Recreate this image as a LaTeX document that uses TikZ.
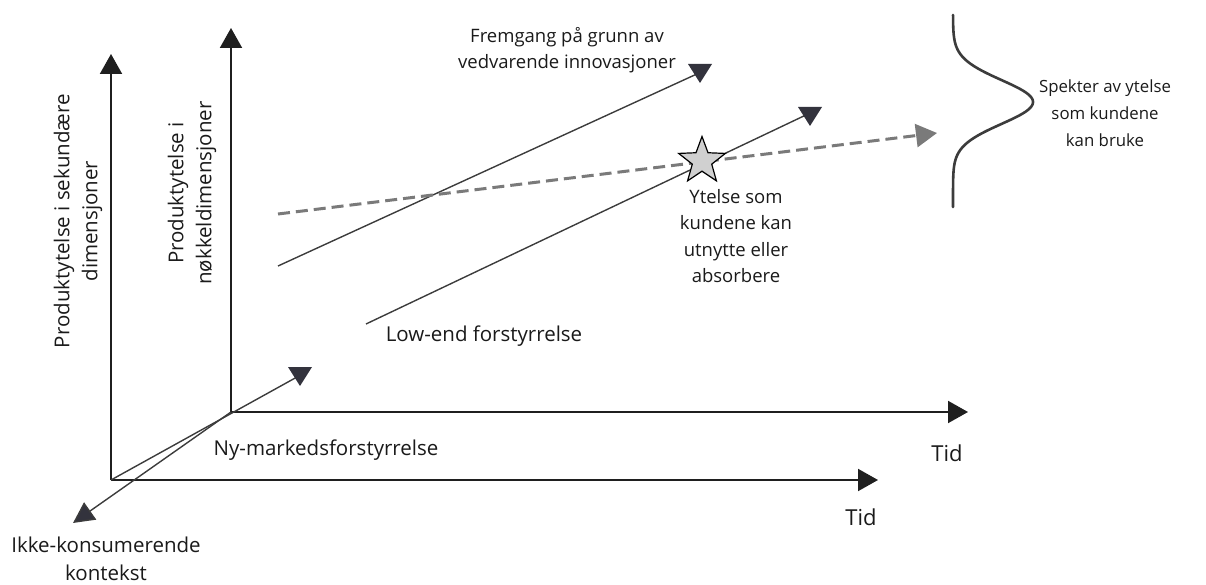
\documentclass[tikz,border=0pt]{standalone}
\usepackage{fontspec}
\setmainfont{Open Sans}
\usetikzlibrary{arrows.meta,shapes.geometric}
\definecolor{axiscol}{HTML}{1F1F1F}
\definecolor{linecol}{HTML}{3C3C3C}
\definecolor{trifill}{HTML}{33333D}
\definecolor{dashcol}{HTML}{7A7A7A}
\definecolor{starfill}{HTML}{D0D0D0}
\definecolor{txtcol}{HTML}{1A1A1A}
\begin{document}
\begin{tikzpicture}[x=1pt,y=-1pt,
  axis/.style={draw=axiscol, line width=2pt, -{Triangle[length=20pt,width=22pt]}},
  thinline/.style={draw=linecol, line width=1.4pt},
  thinarrow/.style={draw=linecol, line width=1.4pt, -{Triangle[length=21pt,width=21pt,fill=trifill]}},
  dashedarrow/.style={draw=dashcol, line width=3pt, dash pattern=on 12pt off 6pt, -{Triangle[length=21pt,width=23pt]}},
  bellcurve/.style={draw=linecol, line width=2.6pt, line cap=round},
  lbl/.style={text=txtcol, inner sep=0pt, align=center, font=\fontsize{20.5}{28}\selectfont},
  lbls/.style={text=txtcol, inner sep=0pt, align=center, font=\fontsize{18.5}{26.5}\selectfont},
  lblxs/.style={text=txtcol, inner sep=0pt, align=center, font=\fontsize{16.8}{27}\selectfont},
  lblt/.style={text=txtcol, inner sep=0pt, font=\fontsize{22}{28}\selectfont},
  downtri/.pic={\fill[trifill] (-12,-8) -- (12,-8) -- (0,11) -- cycle;}
]
\useasboundingbox (0,0) rectangle (1206,585);

% coordinates
\coordinate (O1) at (111,480);
\coordinate (O2) at (231,412);
\coordinate (Y1) at (111,54);
\coordinate (X1) at (878,480);
\coordinate (Y2) at (231,28);
\coordinate (X2) at (968,412);
\coordinate (S0) at (278,266);
\coordinate (S1) at (699,73);
\coordinate (L0) at (366,324);
\coordinate (L1) at (808,114);
\coordinate (D0) at (278,214);
\coordinate (D1) at (937,133);
\coordinate (N1) at (297,377);
\coordinate (K1) at (73,523);

% axes
\draw[axis] (O1) -- (Y1);
\draw[axis] (O1) -- (X1);
\draw[axis] (O2) -- (Y2);
\draw[axis] (O2) -- (X2);

% diagonal lines
\draw[thinline] (O1) -- (N1);
\pic at (300,375) {downtri};
\draw[thinarrow] (O2) -- (K1);

\draw[thinline] (S0) -- (S1);
\pic at (700,72) {downtri};
\draw[thinline] (L0) -- (L1);
\pic at (810,115) {downtri};

\draw[dashedarrow] (D0) -- (D1);

% star
\node[star, star points=5, star point ratio=2.4, minimum size=49pt, inner sep=0pt,
      draw=black, line width=1.2pt, fill=starfill] (star) at (702,161) {};

% bell curve
\draw[bellcurve] plot[domain=15:207, samples=120, variable=\t, smooth]
  ({953+80*exp(-((\t-102)/31)*((\t-102)/31))}, {\t});

% labels
\node[lbls] (fremgang) at (567,50) {Fremgang på grunn av\\vedvarende innovasjoner};
\node[lbl] (lowend) at (484,336) {Low-end forstyrrelse};
\node[lbl] (nymarked) at (326,450) {Ny-markedsforstyrrelse};
\node[lbl] (ikke) at (106,559) {Ikke-konsumerende\\kontekst};
\node[lbls] (ytelse) at (736,236) {Ytelse som\\kundene kan\\utnytte eller\\absorbere};
\node[lblxs] (spekter) at (1105,113) {Spekter av ytelse\\som kundene\\kan bruke};
\node[lblt] (tid1) at (947,453) {Tid};
\node[lblt] (tid2) at (861,517) {Tid};
\node[lbl, rotate=90] (ysec) at (78,221) {Produktytelse i sekundære\\dimensjoner};
\node[lbl, rotate=90] (ykey) at (192,193) {Produktytelse i\\nøkkeldimensjoner};
\end{tikzpicture}
\end{document}
